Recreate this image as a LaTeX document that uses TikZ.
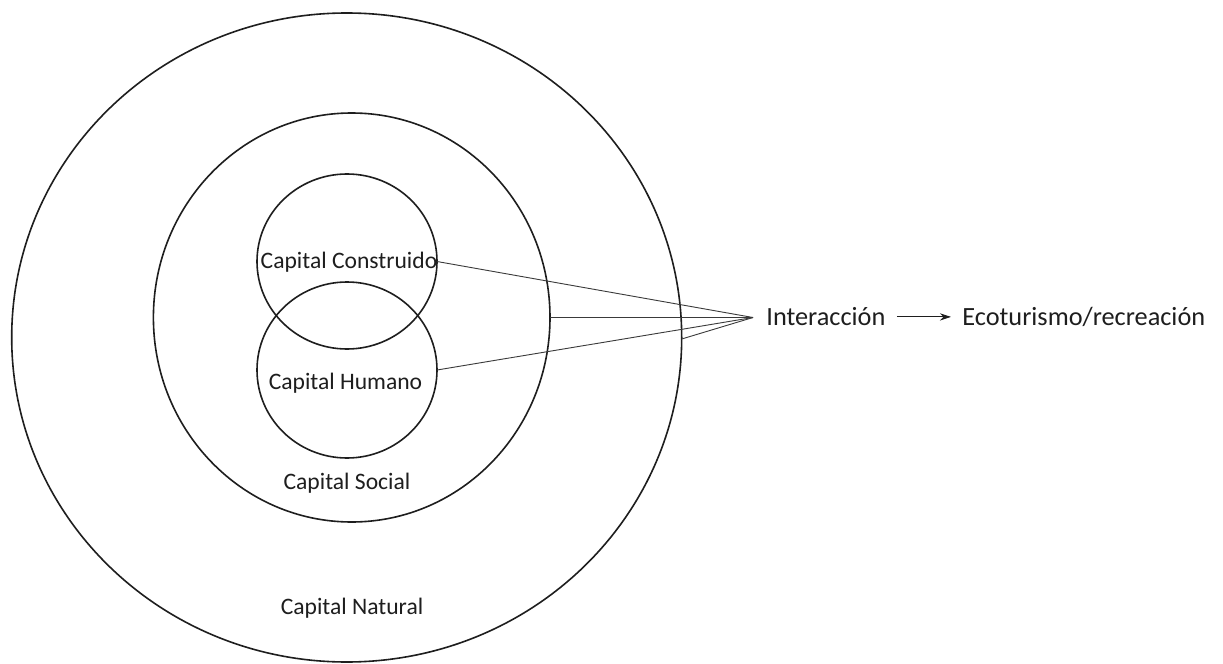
\documentclass[tikz,border=0pt]{standalone}
\usepackage{fontspec}
\setmainfont{Carlito}
\usetikzlibrary{shapes.geometric,arrows.meta}
\definecolor{ink}{HTML}{1E1E1E}
\definecolor{thinink}{HTML}{3A3A3A}
\begin{document}
\begin{tikzpicture}[x=0.5pt,y=-0.5pt,
  ring/.style={draw=ink,line width=0.8pt,ellipse,inner sep=0pt,outer sep=0pt},
  caplabel/.style={inner sep=0pt,anchor=base,font=\fontsize{11.8pt}{14pt}\selectfont,text=ink},
  sidelabel/.style={inner sep=0pt,font=\fontsize{13.15pt}{16pt}\selectfont,text=ink},
  link/.style={draw=thinink,line width=0.45pt},
  flow/.style={draw=ink,line width=0.45pt,-{Stealth[length=5.5pt,width=3.6pt]}}]
\useasboundingbox (0,0) rectangle (1223,664);
\fill[white] (0,0) rectangle (1223,664);

% nested capitals
\node[ring,minimum width=335pt,minimum height=324.5pt] (natural) at (346.7,337.5) {};
\node[ring,minimum width=198.3pt,minimum height=204.5pt] (social) at (351.7,317.5) {};
\node[ring,minimum width=90pt,minimum height=87.5pt] (construido) at (347,261.5) {};
\node[ring,minimum width=90pt,minimum height=88pt] (humano) at (347,370) {};

\node[caplabel] (tconstruido) at (349,268) {Capital Construido};
\node[caplabel] (thumano) at (345.5,389.5) {Capital Humano};
\node[caplabel] (tsocial) at (347,489) {Capital Social};
\node[caplabel] (tnatural) at (352,614) {Capital Natural};

% interaction and outcome
\coordinate (apex) at (753,317.5);
\node[sidelabel,anchor=base west] (inter) at (766,325.5) {Interacción};
\node[sidelabel,anchor=base west] (eco) at (962,325.5) {Ecoturismo/recreación};

\draw[link] (construido.east) -- (apex);
\draw[link] (social.east) -- (apex);
\draw[link] (humano.east) -- (apex);
\draw[link] (natural.east) ++(0,1.5) -- (apex);
\draw[flow] ([xshift=5.5pt,yshift=4.3pt]inter.base east) -- ([xshift=-5.5pt,yshift=4.3pt]eco.base west);
\end{tikzpicture}
\end{document}
